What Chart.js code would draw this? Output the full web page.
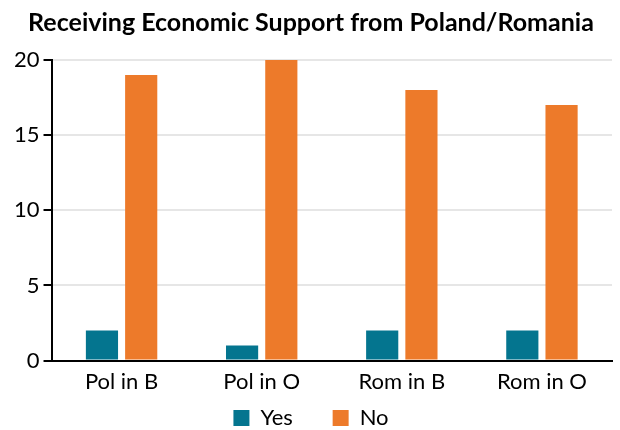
<!DOCTYPE html>
<html>
<head>
<meta charset="utf-8">
<script src="https://cdn.jsdelivr.net/npm/chart.js@4"></script>
<style>
  html, body { margin: 0; padding: 0; background: #fff; }
  #wrap { width: 620px; height: 430px; }
</style>
</head>
<body>
<div id="wrap"><canvas id="chart" width="620" height="430"></canvas></div>
<script>
// data
const categories = ['Pol in B', 'Pol in O', 'Rom in B', 'Rom in O'];
const seriesNames = ['Yes', 'No'];
const yesValues = [2, 1, 2, 2];
const noValues = [19, 20, 18, 17];
const yTicks = [0, 5, 10, 15, 20];

const FONT = 'Lato, "Open Sans", sans-serif';

const ctx = document.getElementById('chart').getContext('2d');
const chart = new Chart(ctx, {
  type: 'bar',
  data: {
    labels: categories,
    datasets: [
      { label: seriesNames[0], data: yesValues, backgroundColor: '#04758f' },
      { label: seriesNames[1], data: noValues, backgroundColor: '#ed7a2a' },
    ],
  },
  options: {
    responsive: false,
    animation: false,
    categoryPercentage: 0.56,
    barPercentage: 0.82,
    layout: { padding: { left: 10, right: 8, top: 0, bottom: -9 } },
    plugins: {
      title: {
        display: true,
        text: 'Receiving Economic Support from Poland/Romania',
        color: '#000',
        font: { family: FONT, size: 25, weight: 'bold' },
        padding: { top: 8, bottom: 22 },
      },
      legend: {
        position: 'bottom',
        labels: {
          color: '#000',
          font: { family: FONT, size: 22 },
          boxWidth: 16,
          boxHeight: 16,
          padding: 4,
          // extra gap after "Yes" so the two items sit apart like the original
          generateLabels: (c) =>
            Chart.defaults.plugins.legend.labels
              .generateLabels(c)
              .map((item, i) =>
                i === 0
                  ? { ...item, text: item.text + '\u2003\u2003\u2009' }
                  : item
              ),
        },
      },
      tooltip: { enabled: false },
    },
    scales: {
      x: {
        grid: { drawOnChartArea: false, drawTicks: false },
        border: { color: '#000', width: 2 },
        ticks: {
          color: '#000',
          padding: 8,
          font: { family: FONT, size: 22 },
        },
      },
      y: {
        min: 0,
        max: 20,
        afterBuildTicks: (axis) => {
          axis.ticks = yTicks.map((v) => ({ value: v }));
        },
        grid: {
          color: '#e6e6e6',
          lineWidth: 2,
          tickColor: '#000',
          tickLength: 8,
        },
        border: { color: '#000', width: 2 },
        ticks: {
          color: '#000',
          padding: 4,
          font: { family: FONT, size: 22 },
        },
      },
    },
  },
});
</script>
</body>
</html>
